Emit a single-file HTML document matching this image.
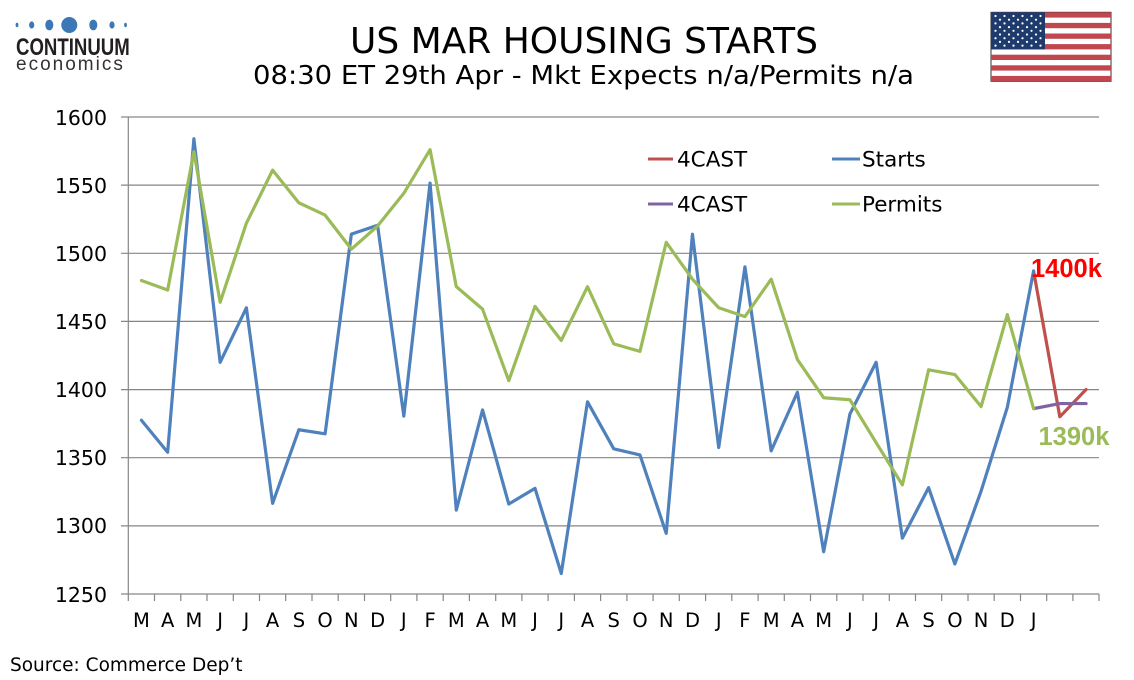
<!DOCTYPE html>
<html><head><meta charset="utf-8"><style>
html,body{margin:0;padding:0;background:#fff;}
svg{display:block;}
text{font-family:"DejaVu Sans","Liberation Sans",sans-serif;fill:#000;}
</style></head><body>
<svg width="1134" height="680" viewBox="0 0 1134 680" xmlns="http://www.w3.org/2000/svg">
<rect width="1134" height="680" fill="#fff"/>
<!-- logo -->
<g fill="#3b78b5">
<ellipse cx="17" cy="25" rx="1.4" ry="2.2"/>
<ellipse cx="31.7" cy="25" rx="2.6" ry="3.6"/>
<ellipse cx="49.3" cy="25" rx="4" ry="5.4"/>
<circle cx="69.3" cy="25" r="8"/>
<ellipse cx="93.3" cy="25" rx="4" ry="5.4"/>
<ellipse cx="112" cy="25" rx="2.6" ry="3.6"/>
<ellipse cx="125.5" cy="25" rx="1.4" ry="2.2"/>
</g>
<text x="0" y="0" transform="translate(16,55) scale(0.76,1)" style="font-family:'Liberation Sans',sans-serif;font-weight:bold;font-size:24.5px;fill:#231f20">CONTINUUM</text>
<text x="16" y="70" style="font-family:'Liberation Sans',sans-serif;font-size:19px;letter-spacing:2px;fill:#333">economics</text>
<!-- flag -->
<rect x="991" y="12.3" width="120" height="69" fill="#fff" stroke="#333" stroke-width="1"/>
<g fill="#c0474e">
<rect x="991" y="12.3" width="120" height="5.3"/>
<rect x="991" y="22.9" width="120" height="5.3"/>
<rect x="991" y="33.5" width="120" height="5.3"/>
<rect x="991" y="44.1" width="120" height="5.3"/>
<rect x="991" y="54.7" width="120" height="5.3"/>
<rect x="991" y="65.3" width="120" height="5.3"/>
<rect x="991" y="75.9" width="120" height="5.3"/>
</g>
<rect x="991" y="12.3" width="54" height="37.1" fill="#1f3b6e"/>
<g fill="#fff">
<circle cx="995.5" cy="16" r="1.1"/><circle cx="1004.5" cy="16" r="1.1"/><circle cx="1013.5" cy="16" r="1.1"/><circle cx="1022.5" cy="16" r="1.1"/><circle cx="1031.5" cy="16" r="1.1"/><circle cx="1040.5" cy="16" r="1.1"/>
<circle cx="1000" cy="19.7" r="1.1"/><circle cx="1009" cy="19.7" r="1.1"/><circle cx="1018" cy="19.7" r="1.1"/><circle cx="1027" cy="19.7" r="1.1"/><circle cx="1036" cy="19.7" r="1.1"/>
<circle cx="995.5" cy="23.4" r="1.1"/><circle cx="1004.5" cy="23.4" r="1.1"/><circle cx="1013.5" cy="23.4" r="1.1"/><circle cx="1022.5" cy="23.4" r="1.1"/><circle cx="1031.5" cy="23.4" r="1.1"/><circle cx="1040.5" cy="23.4" r="1.1"/>
<circle cx="1000" cy="27.1" r="1.1"/><circle cx="1009" cy="27.1" r="1.1"/><circle cx="1018" cy="27.1" r="1.1"/><circle cx="1027" cy="27.1" r="1.1"/><circle cx="1036" cy="27.1" r="1.1"/>
<circle cx="995.5" cy="30.8" r="1.1"/><circle cx="1004.5" cy="30.8" r="1.1"/><circle cx="1013.5" cy="30.8" r="1.1"/><circle cx="1022.5" cy="30.8" r="1.1"/><circle cx="1031.5" cy="30.8" r="1.1"/><circle cx="1040.5" cy="30.8" r="1.1"/>
<circle cx="1000" cy="34.5" r="1.1"/><circle cx="1009" cy="34.5" r="1.1"/><circle cx="1018" cy="34.5" r="1.1"/><circle cx="1027" cy="34.5" r="1.1"/><circle cx="1036" cy="34.5" r="1.1"/>
<circle cx="995.5" cy="38.2" r="1.1"/><circle cx="1004.5" cy="38.2" r="1.1"/><circle cx="1013.5" cy="38.2" r="1.1"/><circle cx="1022.5" cy="38.2" r="1.1"/><circle cx="1031.5" cy="38.2" r="1.1"/><circle cx="1040.5" cy="38.2" r="1.1"/>
<circle cx="1000" cy="41.9" r="1.1"/><circle cx="1009" cy="41.9" r="1.1"/><circle cx="1018" cy="41.9" r="1.1"/><circle cx="1027" cy="41.9" r="1.1"/><circle cx="1036" cy="41.9" r="1.1"/>
<circle cx="995.5" cy="45.6" r="1.1"/><circle cx="1004.5" cy="45.6" r="1.1"/><circle cx="1013.5" cy="45.6" r="1.1"/><circle cx="1022.5" cy="45.6" r="1.1"/><circle cx="1031.5" cy="45.6" r="1.1"/><circle cx="1040.5" cy="45.6" r="1.1"/>
</g>
<!-- titles -->
<text x="350" y="53" textLength="468" lengthAdjust="spacingAndGlyphs" style="font-size:35.5px">US MAR HOUSING STARTS</text>
<text x="253" y="84" textLength="661" lengthAdjust="spacingAndGlyphs" style="font-size:26px">08:30 ET 29th Apr - Mkt Expects n/a/Permits n/a</text>
<!-- gridlines -->
<g stroke="#868686" stroke-width="1.2" fill="none">
<line x1="121" y1="117" x2="1099" y2="117"/>
<line x1="121" y1="185.1" x2="1099" y2="185.1"/>
<line x1="121" y1="253.3" x2="1099" y2="253.3"/>
<line x1="121" y1="321.4" x2="1099" y2="321.4"/>
<line x1="121" y1="389.6" x2="1099" y2="389.6"/>
<line x1="121" y1="457.7" x2="1099" y2="457.7"/>
<line x1="121" y1="525.9" x2="1099" y2="525.9"/>
<line x1="121" y1="594" x2="1099" y2="594"/>
<line x1="128.3" y1="117" x2="128.3" y2="601"/>
</g>
<g stroke="#868686" stroke-width="1.2">
<line x1="154.5" y1="594" x2="154.5" y2="601"/><line x1="180.8" y1="594" x2="180.8" y2="601"/><line x1="207" y1="594" x2="207" y2="601"/><line x1="233.3" y1="594" x2="233.3" y2="601"/><line x1="259.5" y1="594" x2="259.5" y2="601"/><line x1="285.7" y1="594" x2="285.7" y2="601"/><line x1="312" y1="594" x2="312" y2="601"/><line x1="338.2" y1="594" x2="338.2" y2="601"/><line x1="364.5" y1="594" x2="364.5" y2="601"/><line x1="390.7" y1="594" x2="390.7" y2="601"/><line x1="416.9" y1="594" x2="416.9" y2="601"/><line x1="443.2" y1="594" x2="443.2" y2="601"/><line x1="469.4" y1="594" x2="469.4" y2="601"/><line x1="495.7" y1="594" x2="495.7" y2="601"/><line x1="521.9" y1="594" x2="521.9" y2="601"/><line x1="548.1" y1="594" x2="548.1" y2="601"/><line x1="574.4" y1="594" x2="574.4" y2="601"/><line x1="600.6" y1="594" x2="600.6" y2="601"/><line x1="626.9" y1="594" x2="626.9" y2="601"/><line x1="653.1" y1="594" x2="653.1" y2="601"/><line x1="679.3" y1="594" x2="679.3" y2="601"/><line x1="705.6" y1="594" x2="705.6" y2="601"/><line x1="731.8" y1="594" x2="731.8" y2="601"/><line x1="758.1" y1="594" x2="758.1" y2="601"/><line x1="784.3" y1="594" x2="784.3" y2="601"/><line x1="810.5" y1="594" x2="810.5" y2="601"/><line x1="836.8" y1="594" x2="836.8" y2="601"/><line x1="863" y1="594" x2="863" y2="601"/><line x1="889.3" y1="594" x2="889.3" y2="601"/><line x1="915.5" y1="594" x2="915.5" y2="601"/><line x1="941.7" y1="594" x2="941.7" y2="601"/><line x1="968" y1="594" x2="968" y2="601"/><line x1="994.2" y1="594" x2="994.2" y2="601"/><line x1="1020.5" y1="594" x2="1020.5" y2="601"/><line x1="1046.7" y1="594" x2="1046.7" y2="601"/><line x1="1072.9" y1="594" x2="1072.9" y2="601"/><line x1="1099" y1="594" x2="1099" y2="601"/>
</g>
<!-- y labels -->
<g text-anchor="end" style="font-size:20.5px">
<text x="107" y="125">1600</text>
<text x="107" y="193">1550</text>
<text x="107" y="261">1500</text>
<text x="107" y="329">1450</text>
<text x="107" y="397">1400</text>
<text x="107" y="465">1350</text>
<text x="107" y="533">1300</text>
<text x="107" y="602">1250</text>
</g>
<!-- x labels -->
<g text-anchor="middle" style="font-size:19.5px">
<text x="141.4" y="627">M</text><text x="167.7" y="627">A</text><text x="193.9" y="627">M</text><text x="220.1" y="627">J</text><text x="246.4" y="627">J</text><text x="272.6" y="627">A</text><text x="298.9" y="627">S</text><text x="325.1" y="627">O</text><text x="351.3" y="627">N</text><text x="377.6" y="627">D</text><text x="403.8" y="627">J</text><text x="430.1" y="627">F</text><text x="456.3" y="627">M</text><text x="482.5" y="627">A</text><text x="508.8" y="627">M</text><text x="535" y="627">J</text><text x="561.3" y="627">J</text><text x="587.5" y="627">A</text><text x="613.7" y="627">S</text><text x="640" y="627">O</text><text x="666.2" y="627">N</text><text x="692.5" y="627">D</text><text x="718.7" y="627">J</text><text x="744.9" y="627">F</text><text x="771.2" y="627">M</text><text x="797.4" y="627">A</text><text x="823.7" y="627">M</text><text x="849.9" y="627">J</text><text x="876.1" y="627">J</text><text x="902.4" y="627">A</text><text x="928.6" y="627">S</text><text x="954.9" y="627">O</text><text x="981.1" y="627">N</text><text x="1007.3" y="627">D</text><text x="1033.6" y="627">J</text>
</g>
<!-- series -->
<g transform="matrix(26.24 0 0 -1.3629 141.42 2297.6)" fill="none" stroke-width="3.2" stroke-linejoin="round" stroke-linecap="round">
<polyline vector-effect="non-scaling-stroke" stroke="#c0504d" points="34,1487 35,1380 36,1400"/>
<polyline vector-effect="non-scaling-stroke" stroke="#4f81bd" points="0,1377.5 1,1354 2,1584 3,1420 4,1460 5,1316.5 6,1370.5 7,1367.5 8,1514 9,1520.5 10,1380.5 11,1551.5 12,1311.5 13,1385 14,1316 15,1327.5 16,1265 17,1391 18,1356.5 19,1352 20,1294.5 21,1514 22,1357.5 23,1490 24,1355 25,1398 26,1281 27,1382 28,1420 29,1291 30,1328 31,1272 32,1325.5 33,1387 34,1487"/>
<polyline vector-effect="non-scaling-stroke" stroke="#8064a2" points="34,1386 35,1389.7 36,1389.7"/>
<polyline vector-effect="non-scaling-stroke" stroke="#9bbb59" points="0,1480 1,1473 2,1574.5 3,1464 4,1522 5,1561 6,1537 7,1528 8,1503 9,1520 10,1544 11,1576 12,1475.5 13,1459 14,1406.5 15,1461 16,1436 17,1475.5 18,1433.5 19,1428 20,1508 21,1481 22,1460 23,1453.5 24,1481 25,1422 26,1394 27,1392.5 28,1361 29,1330 30,1414.5 31,1411 32,1387.5 33,1455 34,1386"/>
</g>
<!-- legend -->
<g stroke-width="3">
<line x1="648" y1="159" x2="673" y2="159" stroke="#c0504d"/>
<line x1="832" y1="159" x2="860" y2="159" stroke="#4f81bd"/>
<line x1="648" y1="204" x2="673" y2="204" stroke="#8064a2"/>
<line x1="832" y1="204" x2="860" y2="204" stroke="#9bbb59"/>
</g>
<g style="font-size:21.5px">
<text x="677" y="166.5">4CAST</text>
<text x="862" y="166.5">Starts</text>
<text x="677" y="211.5">4CAST</text>
<text x="862" y="211.5">Permits</text>
</g>
<!-- annotations -->
<text x="1031" y="277" style="font-family:'Liberation Sans',sans-serif;font-weight:bold;font-size:25.5px;fill:#ff0000">1400k</text>
<text x="1038.5" y="445" style="font-family:'Liberation Sans',sans-serif;font-weight:bold;font-size:25.5px;fill:#9bbb59">1390k</text>
<!-- source -->
<text x="10" y="671" style="font-size:18.5px">Source: Commerce Dep’t</text>
</svg>
</body></html>
